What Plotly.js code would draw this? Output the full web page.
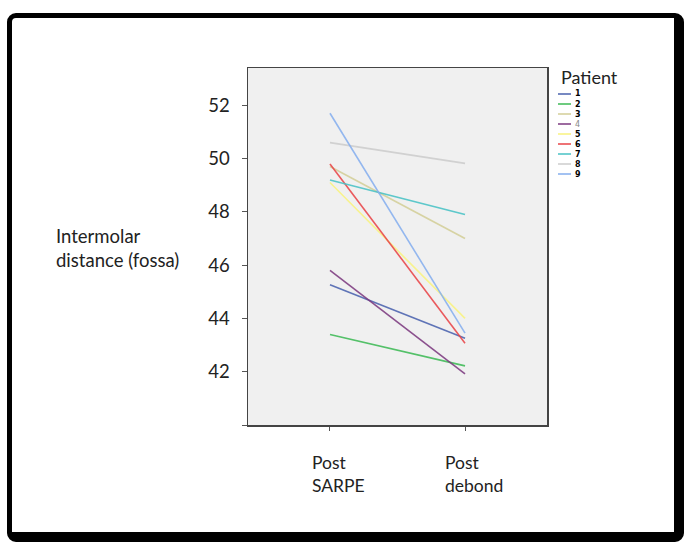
<!DOCTYPE html>
<html>
<head>
<meta charset="utf-8">
<script src="https://cdn.plot.ly/plotly-3.0.1.min.js"></script>
<style>
  html, body { margin: 0; padding: 0; background: #fff; }
  #wrap { position: relative; width: 685px; height: 542px; overflow: hidden; }
  #plot { position: absolute; left: 0; top: 0; width: 685px; height: 542px; }
  #frame { position: absolute; left: 7px; top: 13px; right: 1px; bottom: 0px;
           border-style: solid; border-color: #000; border-width: 5px 10px 10px 5px;
           border-radius: 9px; pointer-events: none; box-sizing: border-box; }
</style>
</head>
<body>
<div id="wrap"><div id="plot"></div><div id="frame"></div></div>
<script>
// ---- data ----
const timepoints = ["Post SARPE", "Post debond"];
const timeLabels = ["Post<br>SARPE", "Post<br>debond"];
const patients = ["1", "2", "3", "4", "5", "6", "7", "8", "9"];
const postSarpe  = [45.26, 43.40, 49.70, 45.80, 49.10, 49.80, 49.20, 50.60, 51.70];
const postDebond = [43.26, 42.22, 47.00, 41.92, 44.00, 43.07, 47.90, 49.82, 43.45];
const colors = ["#4A62AE", "#3DBA55", "#D3CE97", "#7C3A80", "#F8F27E", "#E84448", "#48C2C5", "#CCCCCC", "#85AEEE"];
const yTickVals = [40, 42, 44, 46, 48, 50, 52];
const yTickText = ["", "42", "44", "46", "48", "50", "52"];
const yTitle = "Intermolar<br>distance (fossa)";
const legendTitle = "Patient";

// ---- layout helpers (pixel -> paper) ----
const L = 248, R = 547, T = 68, B = 425, W = 685, H = 542;
const px = x => (x - L) / (R - L);
const py = y => (B - y) / (B - T);
const FONT = "Lato, 'Open Sans', sans-serif";

const traces = patients.map((p, i) => ({
  type: "scatter",
  mode: "lines",
  x: [0, 1],
  y: [postSarpe[i], postDebond[i]],
  name: p,
  line: { color: colors[i], width: 1.6 },
  opacity: 0.88,
  hoverinfo: "x+y+name",
  showlegend: false
}));

const shapes = [];
const annotations = [];

// custom compact legend
annotations.push({
  xref: "paper", yref: "paper", x: px(559), y: py(77), xanchor: "left", yanchor: "middle",
  text: legendTitle, showarrow: false, font: { family: FONT, size: 18, color: "#222" }
});
patients.forEach((p, i) => {
  const yy = 94 + i * 10;
  shapes.push({
    type: "line", xref: "paper", yref: "paper",
    x0: px(558), x1: px(571), y0: py(yy), y1: py(yy),
    line: { color: colors[i], width: 1.5 }
  });
  annotations.push({
    xref: "paper", yref: "paper", x: px(573), y: py(yy), xanchor: "left", yanchor: "middle",
    text: p === "4" ? p : "<b>" + p + "</b>", showarrow: false,
    font: { family: "'DejaVu Sans', sans-serif", size: 8, color: p === "4" ? "#888" : "#000" }
  });
});

// y axis title (horizontal, left)
annotations.push({
  xref: "paper", yref: "paper", x: px(54), y: py(248), xanchor: "left", yanchor: "middle",
  align: "left", text: yTitle, showarrow: false,
  font: { family: FONT, size: 18.5, color: "#222" }
});

// category labels
timeLabels.forEach((t, i) => {
  annotations.push({
    xref: "x", yref: "paper", x: i, xshift: 9, y: py(474), xanchor: "center", yanchor: "middle",
    align: "left", text: t, showarrow: false,
    font: { family: FONT, size: 17.5, color: "#222" }
  });
});

const layout = {
  width: W, height: H,
  margin: { l: L, r: W - R, t: T, b: H - B, pad: 0 },
  paper_bgcolor: "#ffffff",
  plot_bgcolor: "#f0f0f0",
  showlegend: false,
  font: { family: FONT, size: 18, color: "#222" },
  xaxis: {
    range: [-0.607, 1.607],
    tickvals: [0, 1],
    ticktext: timepoints,
    showticklabels: false,
    ticks: "outside", ticklen: 4, tickwidth: 1, tickcolor: "#555",
    showgrid: false, zeroline: false,
    showline: true, linecolor: "#444", linewidth: 1.5, mirror: true
  },
  yaxis: {
    range: [40, 53.4],
    tickvals: yTickVals,
    ticktext: yTickText,
    ticks: "outside", ticklen: 5, tickwidth: 1, tickcolor: "#555",
    ticklabelstandoff: 8,
    tickfont: { family: FONT, size: 18.5, color: "#222" },
    showgrid: false, zeroline: false,
    showline: true, linecolor: "#444", linewidth: 1.5, mirror: true
  },
  shapes: shapes,
  annotations: annotations
};

Plotly.newPlot("plot", traces, layout, { displayModeBar: false, staticPlot: true });
</script>
</body>
</html>
